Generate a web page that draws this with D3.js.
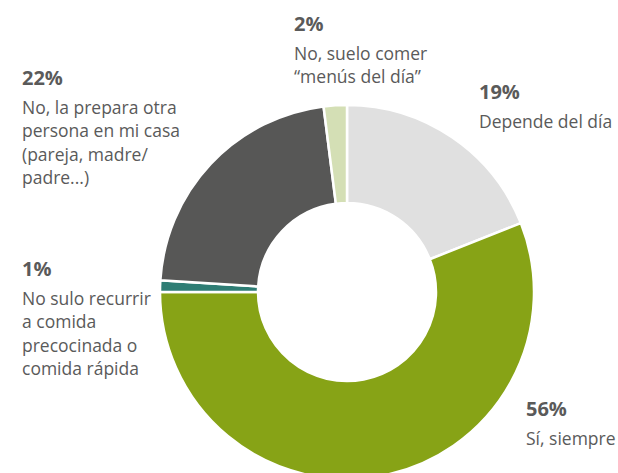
<!DOCTYPE html>
<html><head><meta charset="utf-8">
<script src="https://cdn.jsdelivr.net/npm/d3@7"></script>
<style>html,body{margin:0;padding:0;background:#fff;overflow:hidden}</style>
</head><body>
<svg id="c" width="618" height="473"></svg>
<script>
const categories = ["Depende del día","Sí, siempre","No sulo recurrir a comida precocinada o comida rápida","No, la prepara otra persona en mi casa (pareja, madre/ padre...)","No, suelo comer “menús del día”"];
const values = [19, 56, 1, 22, 2];
const colors = ["#e0e0e0","#87a316","#2e7d74","#575756","#d4dfb5"];
const labelLines = [
  ["Depende del día"],
  ["Sí, siempre"],
  ["No sulo recurrir","a comida","precocinada o","comida rápida"],
  ["No, la prepara otra","persona en mi casa","(pareja, madre/","padre...)"],
  ["No, suelo comer","“menús del día”"]
];
const labelPos = [[479,99],[526,416],[22,276],[22,85],[294,31]];

const svg = d3.select("#c");
const cx = 347, cy = 292, R = 187, r = 89;
const pie = d3.pie().sort(null).value(d => d)(values);
const arc = d3.arc().innerRadius(r).outerRadius(R);
const g = svg.append("g").attr("transform", `translate(${cx},${cy})`);
g.selectAll("path").data(pie).join("path")
  .attr("d", arc)
  .attr("fill", (d,i) => colors[i])
  .attr("stroke", "#fff").attr("stroke-width", 2.5);

const font = "'Open Sans', sans-serif";
values.forEach((v,i) => {
  const [x,y] = labelPos[i];
  const t = svg.append("text").attr("x", x).attr("y", y)
    .attr("font-family", font).attr("fill", "#5a5a5a");
  t.append("tspan").attr("x", x).attr("font-weight", 700).attr("font-size", 20).text(v + "%");
  labelLines[i].forEach((l, j) => {
    t.append("tspan").attr("x", x).attr("dy", j === 0 ? 28.5 : 23.5)
      .attr("font-size", 17.5).text(l);
  });
});
</script>
</body></html>
